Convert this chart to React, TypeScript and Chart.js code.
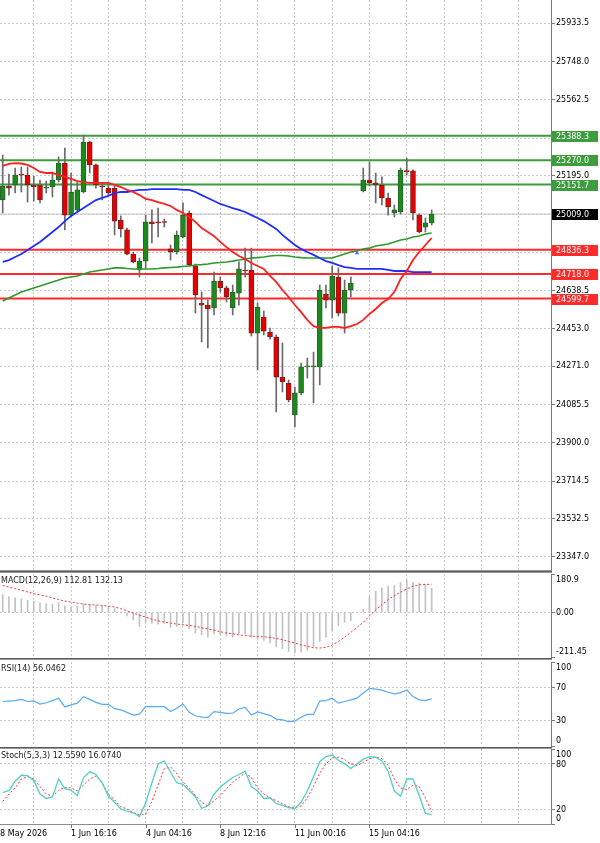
import React, { useEffect, useRef } from "react";
import { Chart, registerables } from "chart.js";

Chart.register(...registerables);

const FONT = '"DejaVu Sans", Tahoma, sans-serif';
const FS = 8;

// ---------------- data ----------------
const dateLabels = ["28 May 2026", "1 Jun 16:16", "4 Jun 04:16", "8 Jun 12:16", "11 Jun 00:16", "15 Jun 04:16"];
const dateLabelBars = [-1.2, 11, 23, 35, 47, 59];
const gridBars = [5, 11, 17, 23, 29, 35, 41, 47, 53, 59, 65, 71, 77, 83];

const open: (number | null)[] = [
  25077, 25145, 25150, 25203, 25198, 25150, 25150, 25135, 25140, 25174,
  25256, 25004, 25029, 25116, 25358, 25247, 25145, 25135, 25135, 24980,
  24932, 24815, 24738, 24781, 24971, 24971, 24971, 24840, 24825, 24898,
  25014, 24757, 24578, 24568, 24554, 24684, 24651, 24554, 24626, 24738,
  24738, 24432, 24510, 24437, 24413, 24219, 24190, 24035, 24142, 24268,
  24268, 24268, 24621, 24592, 24704, 24529, 24641, null, 25121, 25174,
  25160, 25150, 25087, 25014, 25019, 25218, 25218, 25004, 24946, 24966,
];
const high: (number | null)[] = [
  25295, 25203, 25232, 25237, 25237, 25193, 25174, 25169, 25213, 25286,
  25329, 25208, 25164, 25392, 25363, 25252, 25160, 25150, 25145, 25000,
  24941, 24825, 24796, 25004, 25029, 25038, 24985, 24859, 24927, 25063,
  25024, 24767, 24631, 24592, 24728, 24704, 24660, 24665, 24777, 24844,
  24844, 24578, 24539, 24456, 24423, 24384, 24205, 24171, 24287, 24311,
  24340, 24665, 24665, 24757, 24748, 24689, 24704, null, 25232, 25261,
  25208, 25189, 25111, 25053, 25232, 25280, 25223, 25010, 24990, 25029,
];
const low: (number | null)[] = [
  25014, 25101, 25111, 25116, 25067, 25072, 25063, 25111, 25092, 25164,
  24932, 24995, 25019, 25111, 25208, 25135, 25077, 25101, 24908, 24898,
  24811, 24772, 24704, 24747, 24869, 24898, 24946, 24786, 24815, 24893,
  24757, 24529, 24389, 24360, 24520, 24631, 24583, 24520, 24568, 24704,
  24418, 24253, 24423, 24403, 24050, 24147, 24098, 23977, 24132, 24214,
  24093, 24181, 24554, 24505, 24515, 24432, 24607, null, 25116, 25145,
  25063, 25053, 25004, 24995, 25009, 25198, 24980, 24917, 24922, 24956,
];
const close: (number | null)[] = [
  25145, 25135, 25198, 25198, 25150, 25140, 25077, 25140, 25174, 25256,
  25004, 25116, 25126, 25358, 25247, 25150, 25140, 25111, 24975, 24937,
  24815, 24777, 24781, 24971, 24961, 24966, 24968, 24825, 24907, 25004,
  24762, 24617, 24568, 24549, 24684, 24651, 24607, 24631, 24743, 24733,
  24432, 24558, 24442, 24413, 24219, 24195, 24108, 24142, 24268, 24272,
  24272, 24641, 24592, 24709, 24529, 24641, 24675, null, 25174, 25160,
  25150, 25087, 25043, 25029, 25222, 25215, 25014, 24922, 24966, 25009,
];

const maFast = [
  25242, 25252, 25256, 25254, 25247, 25232, 25213, 25208, 25208, 25198,
  25189, 25179, 25169, 25164, 25160, 25160, 25160, 25160, 25150, 25140,
  25126, 25116, 25101, 25082, 25077, 25067, 25058, 25048, 25029, 25014,
  24995, 24971, 24941, 24922, 24902, 24874, 24849, 24825, 24806, 24791,
  24772, 24757, 24743, 24709, 24680, 24641, 24607, 24568, 24534, 24496,
  24466, 24457, 24457, 24462, 24462, 24457, 24466, 24476, 24496, 24525,
  24549, 24578, 24597, 24631, 24694, 24733, 24786, 24825, 24859, 24893,
];
const maMid = [
  24777, 24786, 24801, 24815, 24835, 24854, 24874, 24898, 24922, 24946,
  24975, 25000, 25019, 25038, 25058, 25077, 25087, 25097, 25111, 25116,
  25116, 25121, 25126, 25126, 25130, 25130, 25130, 25130, 25130, 25126,
  25126, 25116, 25101, 25087, 25072, 25058, 25048, 25038, 25029, 25019,
  25004, 24990, 24975, 24956, 24937, 24908, 24883, 24859, 24840, 24825,
  24811, 24796, 24781, 24772, 24762, 24752, 24748, 24743, 24743, 24743,
  24743, 24743, 24738, 24733, 24733, 24733, 24728, 24728, 24728, 24728,
];
const maSlow = [
  24588, 24602, 24617, 24631, 24641, 24651, 24660, 24670, 24680, 24689,
  24699, 24704, 24709, 24718, 24728, 24733, 24738, 24743, 24748, 24748,
  24745, 24743, 24743, 24743, 24743, 24745, 24748, 24750, 24752, 24755,
  24757, 24762, 24764, 24767, 24772, 24774, 24777, 24781, 24786, 24791,
  24796, 24798, 24801, 24806, 24808, 24808, 24806, 24801, 24798, 24796,
  24796, 24796, 24796, 24796, 24806, 24815, 24825, 24830, 24840, 24844,
  24854, 24859, 24864, 24874, 24883, 24888, 24898, 24903, 24912, 24917,
];

const resistanceLevels = [25388.3, 25270.0, 25151.7];
const supportLevels = [24836.3, 24718.0, 24599.7];
const lastPrice = 25009.0;
const markerBars = [57];
const markerPrices = [24820];

const priceTicks = [25933.5, 25748.0, 25562.5, 25377.0, 25195.0, 25009.0, 24823.5, 24638.5, 24453.0, 24271.0, 24085.5, 23900.0, 23714.5, 23532.5, 23347.0];
const hiddenPriceTicks = [25377.0, 25009.0, 24823.5];

const macdHist = [
  84, 73, 68, 64, 57, 53, 45, 40, 37, 45,
  29, 26, 29, 40, 37, 33, 29, 26, 17, 2,
  -17, -36, -67, -48, -53, -56, -53, -71, -67, -48,
  -79, -98, -107, -118, -102, -102, -110, -118, -102, -102,
  -118, -126, -133, -144, -164, -172, -185, -191, -188, -180,
  -164, -138, -118, -87, -64, -48, -40, -2, 14, 76,
  99, 115, 123, 126, 141, 154, 141, 138, 130, 112.81,
];
const macdSignal = [
  127, 119, 112, 104, 96, 88, 82, 76, 68, 60,
  53, 48, 43, 39, 36, 34, 33, 29, 25, 17,
  6, -3, -14, -23, -33, -40, -47, -51, -56, -59,
  -62, -67, -73, -79, -85, -92, -98, -102, -107, -110,
  -113, -115, -116, -119, -124, -130, -138, -146, -154, -161,
  -168, -169, -166, -154, -138, -118, -95, -71, -48, -17,
  11, 37, 60, 79, 95, 110, 123, 130, 132, 132.13,
];
const macdTicks = [-211.45, 0, 180.9];
const macdTickLabels = ["-211.45", "0.00", "180.9"];

const rsi = [
  53, 53.5, 54, 55.5, 53, 53.6, 50, 51.5, 54, 56.8,
  46.5, 49, 51, 58.8, 55.5, 52, 49.6, 49.6, 44.5, 43,
  40, 36.8, 38, 46.8, 46.8, 46.8, 46.8, 41, 45, 50,
  40, 36, 34.4, 34, 41, 40, 38.8, 39, 44, 46,
  37, 40.5, 38.5, 36.5, 32, 31, 29, 29.5, 34.5, 37.6,
  37.6, 53.5, 54, 56.8, 51, 53, 55, 57, 63, 68.5,
  67.6, 66.5, 64, 62, 63.5, 66.8, 59, 55, 54, 56.0462,
];
const rsiTicks = [0, 30, 70, 100];

const stochK = [
  42, 44.5, 57, 65, 64.5, 58, 40, 34, 36, 60,
  47, 45, 38, 62, 69.5, 66, 55, 37, 29, 20,
  17, 15, 10, 28, 55, 80, 84, 69, 55, 53,
  45, 36, 21, 24, 40, 49, 56, 62, 66, 70.5,
  50, 44, 34, 35, 27, 25, 22, 20.5, 29, 44,
  63, 83, 90, 92, 85, 80.5, 74, 80, 86.5, 89.8,
  89, 84, 70, 44, 37, 60, 60, 38, 14, 12.559,
];
const stochD = [
  30, 40, 48, 60, 63, 60, 50, 40, 37, 45,
  49, 48, 44, 52, 60, 64, 55, 40, 32, 23,
  20, 15, 12, 13, 30, 52, 74, 76, 67, 56,
  48, 38, 29, 24, 31, 38, 47, 56, 62, 68,
  62, 48, 40, 35, 31, 27, 23, 22, 24, 35,
  50, 68, 80, 88, 89, 86, 80, 78, 82, 87,
  89, 87, 78, 60, 48, 46, 52, 50, 35, 16.074,
];
const stochTicks = [0, 20, 80, 100];

// ---------------- styling / layout ----------------
const X_MIN = -0.434;
const X_MAX = 88.2;
const PRICE_MIN = 23279.1;
const PRICE_MAX = 26046.4;
const AXIS_W = 49;
const GRID = "#c8c8c8";
const AXIS = "#7a7a7a";
const BULL = "#1a8a1a";
const BEAR = "#e60000";
const WICK = "#6a6a6a";
const LVL_GREEN = "#3d9c3d";
const LVL_RED = "#ff2a2a";

const pts = (arr: (number | null)[]) => arr.map((v, i) => ({ x: i, y: v }));
const hline = (v: number) => [{ x: X_MIN, y: v }, { x: X_MAX, y: v }];

const xScale = () => ({
  type: "linear",
  min: X_MIN,
  max: X_MAX,
  offset: false,
  display: true,
  afterBuildTicks: (s: any) => {
    s.ticks = gridBars.map((v) => ({ value: v }));
  },
  ticks: { display: false },
  grid: { drawTicks: false, color: GRID, offset: false },
  border: { display: false, dash: [2, 2] },
});

const yFit = (s: any) => {
  s.width = AXIS_W;
  s.paddingTop = 0;
  s.paddingBottom = 0;
};

const subY = (min: number, max: number, ticks: number[], gridAt: number[]) => ({
  position: "right",
  min,
  max,
  afterBuildTicks: (s: any) => {
    s.ticks = ticks.map((v) => ({ value: v }));
  },
  afterFit: yFit,
  ticks: { display: false },
  grid: {
    color: (c: any) => (c.tick && gridAt.includes(c.tick.value) ? GRID : "rgba(0,0,0,0)"),
    tickColor: AXIS,
    tickLength: 4,
    tickBorderDash: [],
  },
  border: { display: true, color: AXIS, dash: [2, 2] },
});

const baseOptions = (padTop: number, padBottom: number) => ({
  responsive: false,
  animation: false,
  devicePixelRatio: 1,
  events: [],
  layout: { autoPadding: false, padding: { top: padTop, bottom: padBottom, left: 0, right: 0 } },
  plugins: { legend: { display: false }, tooltip: { enabled: false } },
});

function drawSubLabels(chart: any, ticks: number[], labels: string[], title: string) {
  const { ctx, chartArea: ca, scales } = chart;
  const y = scales.y;
  ctx.save();
  ctx.font = `${FS}px ${FONT}`;
  ctx.fillStyle = "#000";
  ctx.textAlign = "left";
  const max = Math.max(...ticks);
  const min = Math.min(...ticks);
  ticks.forEach((v, k) => {
    const py = y.getPixelForValue(v);
    if (v === max) {
      ctx.textBaseline = "top";
      ctx.fillText(labels[k], ca.right + 5, py + 2);
    } else if (v === min) {
      ctx.textBaseline = "bottom";
      ctx.fillText(labels[k], ca.right + 5, py - 1);
    } else {
      ctx.textBaseline = "middle";
      ctx.fillText(labels[k], ca.right + 5, py + 0.5);
    }
  });
  ctx.textBaseline = "middle";
  ctx.fillStyle = "#222";
  ctx.fillText(title, ca.left + 1, ca.top + 7);
  // separator on top of the sub window
  ctx.fillStyle = "#5a5a5a";
  ctx.fillRect(0, 0, ca.right + 1, 1);
  ctx.fillStyle = "#9a9a9a";
  ctx.fillRect(0, 1, ca.right + 1, 1);
  ctx.restore();
}

function mainConfig(): any {
  const bars = open.map((_, i) => i).filter((i) => open[i] !== null);
  const wickData = bars.map((i) => ({ x: i, y: [low[i], high[i]] }));
  const bodyData = bars.map((i) => ({ x: i, y: [open[i], close[i]] }));
  const bodyColors = bars.map((i) => ((close[i] as number) >= (open[i] as number) ? BULL : BEAR));
  const bodyBorders = bars.map((i) => ((close[i] as number) >= (open[i] as number) ? "#2f5f2f" : "#7a2020"));

  const levelSets = [
    ...resistanceLevels.map((v) => ({ v, c: LVL_GREEN })),
    ...supportLevels.map((v) => ({ v, c: LVL_RED })),
  ];

  const datasets: any[] = [
    {
      type: "line",
      data: hline(lastPrice),
      borderColor: "#c4c4c4",
      borderWidth: 1,
      pointRadius: 0,
      order: 30,
    },
    ...levelSets.map((l) => ({
      type: "line",
      data: hline(l.v),
      borderColor: l.c,
      borderWidth: 2,
      pointRadius: 0,
      order: 20,
    })),
    {
      type: "bar",
      data: wickData,
      backgroundColor: WICK,
      barThickness: 1,
      grouped: false,
      order: 12,
    },
    {
      type: "bar",
      data: bodyData,
      backgroundColor: bodyColors,
      borderColor: bodyBorders,
      borderWidth: 1,
      borderSkipped: false,
      barThickness: 5,
      minBarLength: 1,
      grouped: false,
      order: 11,
    },
    { type: "line", data: pts(maSlow), borderColor: "#2e9a2e", borderWidth: 1.6, pointRadius: 0, order: 3 },
    { type: "line", data: pts(maMid), borderColor: "#1f2fff", borderWidth: 1.8, pointRadius: 0, order: 2 },
    { type: "line", data: pts(maFast), borderColor: "#ff1f1f", borderWidth: 1.8, pointRadius: 0, order: 1 },
    {
      type: "line",
      data: markerBars.map((b, k) => ({ x: b, y: markerPrices[k] })),
      showLine: false,
      pointStyle: "triangle",
      pointRadius: 2.5,
      pointBackgroundColor: "#3a6cff",
      pointBorderColor: "#3a6cff",
      pointBorderWidth: 0,
      order: 0,
    },
  ];

  const deco = {
    id: "mainDeco",
    afterDraw(chart: any) {
      const { ctx, chartArea: ca, scales } = chart;
      const y = scales.y;
      ctx.save();
      ctx.font = `${FS}px ${FONT}`;
      ctx.textBaseline = "middle";
      ctx.textAlign = "left";
      const box = (v: number, bg: string) => {
        const py = Math.round(y.getPixelForValue(v));
        ctx.fillStyle = bg;
        ctx.fillRect(ca.right + 1, py - 5, 46, 11);
        ctx.fillStyle = "#fff";
        ctx.fillText(v.toFixed(1), ca.right + 5, py + 0.5);
      };
      resistanceLevels.forEach((v) => box(v, LVL_GREEN));
      supportLevels.forEach((v) => box(v, LVL_RED));
      box(lastPrice, "#000");
      ctx.fillStyle = "#9a9a9a";
      ctx.fillRect(0, ca.bottom - 1, ca.right + 1, 1);
      ctx.restore();
    },
  };

  return {
    type: "bar",
    data: { datasets },
    options: {
      ...baseOptions(0, 0),
      scales: {
        x: xScale(),
        y: {
          position: "right",
          min: PRICE_MIN,
          max: PRICE_MAX,
          afterBuildTicks: (s: any) => {
            s.ticks = priceTicks.map((v) => ({ value: v }));
          },
          afterFit: yFit,
          ticks: {
            autoSkip: false,
            padding: 1,
            color: "#000",
            font: { family: FONT, size: FS },
            callback: (v: any) => (hiddenPriceTicks.includes(v) ? "" : Number(v).toFixed(1)),
          },
          grid: { color: GRID, tickColor: AXIS, tickLength: 4, tickBorderDash: [] },
          border: { display: true, color: AXIS, dash: [2, 2] },
        },
      },
    },
    plugins: [deco],
  };
}

function macdConfig(): any {
  const deco = {
    id: "macdDeco",
    afterDraw(chart: any) {
      drawSubLabels(chart, macdTicks, macdTickLabels, "MACD(12,26,9) 112.81 132.13");
    },
  };
  return {
    type: "bar",
    data: {
      datasets: [
        {
          type: "line",
          data: pts(macdSignal),
          borderColor: "#ff3030",
          borderWidth: 1,
          borderDash: [2, 2],
          pointRadius: 0,
          order: 1,
        },
        {
          type: "bar",
          data: pts(macdHist),
          backgroundColor: "#c2c2c2",
          barThickness: 1,
          grouped: false,
          order: 2,
        },
      ],
    },
    options: {
      ...baseOptions(3, 1),
      scales: { x: xScale(), y: subY(-211.45, 180.9, macdTicks, [0]) },
    },
    plugins: [deco],
  };
}

function rsiConfig(): any {
  const deco = {
    id: "rsiDeco",
    afterDraw(chart: any) {
      drawSubLabels(chart, rsiTicks, rsiTicks.map(String), "RSI(14) 56.0462");
    },
  };
  return {
    type: "line",
    data: {
      datasets: [
        { data: pts(rsi), borderColor: "#5aaaf5", borderWidth: 1.2, pointRadius: 0, tension: 0 },
      ],
    },
    options: {
      ...baseOptions(4, 1),
      scales: { x: xScale(), y: subY(0, 100, rsiTicks, [30, 70]) },
    },
    plugins: [deco],
  };
}

function stochConfig(): any {
  const deco = {
    id: "stochDeco",
    afterDraw(chart: any) {
      drawSubLabels(chart, stochTicks, stochTicks.map(String), "Stoch(5,3,3) 12.5590 16.0740");
      const { ctx, chartArea: ca, scales } = chart;
      const x = scales.x;
      ctx.save();
      ctx.fillStyle = "#8c8c8c";
      ctx.fillRect(0, ca.bottom, ca.right + 1, 1);
      ctx.font = `${FS}px ${FONT}`;
      ctx.textBaseline = "middle";
      ctx.textAlign = "left";
      dateLabels.forEach((t, k) => {
        const px = Math.round(x.getPixelForValue(dateLabelBars[k]));
        ctx.fillStyle = AXIS;
        ctx.fillRect(px, ca.bottom, 1, 4);
        ctx.fillStyle = "#000";
        ctx.fillText(t, px, ca.bottom + 10);
      });
      ctx.restore();
    },
  };
  return {
    type: "line",
    data: {
      datasets: [
        {
          data: pts(stochD),
          borderColor: "#ff3030",
          borderWidth: 1,
          borderDash: [2, 2],
          pointRadius: 0,
          order: 2,
        },
        { data: pts(stochK), borderColor: "#4fcfc8", borderWidth: 1.3, pointRadius: 0, order: 1 },
      ],
    },
    options: {
      ...baseOptions(2, 19),
      scales: { x: xScale(), y: subY(0, 100, stochTicks, [20, 80]) },
    },
    plugins: [deco],
  };
}

export default function App() {
  const r1 = useRef<HTMLCanvasElement>(null);
  const r2 = useRef<HTMLCanvasElement>(null);
  const r3 = useRef<HTMLCanvasElement>(null);
  const r4 = useRef<HTMLCanvasElement>(null);

  useEffect(() => {
    const charts = [
      new Chart(r1.current as HTMLCanvasElement, mainConfig()),
      new Chart(r2.current as HTMLCanvasElement, macdConfig()),
      new Chart(r3.current as HTMLCanvasElement, rsiConfig()),
      new Chart(r4.current as HTMLCanvasElement, stochConfig()),
    ];
    return () => charts.forEach((c) => c.destroy());
  }, []);

  const cs = (top: number): React.CSSProperties => ({ position: "absolute", left: 0, top, display: "block" });

  return (
    <div style={{ position: "absolute", left: 0, top: 0, width: 600, height: 843, background: "#fff", overflow: "hidden" }}>
      <canvas ref={r1} width={600} height={571} style={cs(0)} />
      <canvas ref={r2} width={600} height={87} style={cs(571)} />
      <canvas ref={r3} width={600} height={89} style={cs(658)} />
      <canvas ref={r4} width={600} height={96} style={cs(747)} />
    </div>
  );
}
